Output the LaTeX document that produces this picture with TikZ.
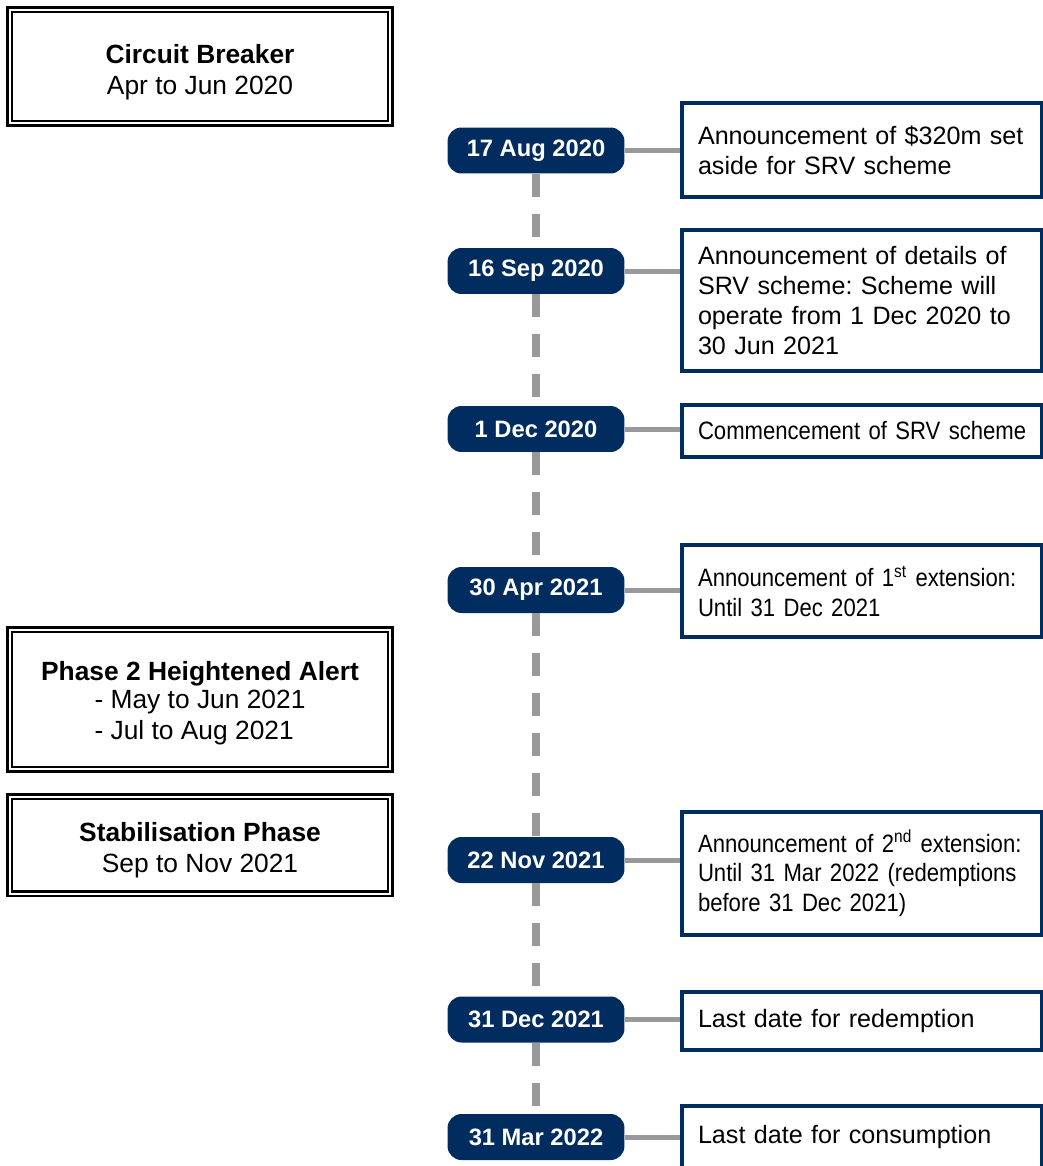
\documentclass[tikz,border=0pt]{standalone}
\usepackage{fontspec}
\setmainfont{Liberation Sans}
\newfontfamily\tightfont{Liberation Sans}[FakeStretch=0.88]
\usepackage{tikz}
\hyphenpenalty=10000
\frenchspacing

\definecolor{navy}{RGB}{0,44,95}
\definecolor{spinegray}{RGB}{153,153,153}

\tikzset{
  phase/.style={draw=black, line width=0.05cm, double, double distance=0.04cm,
    minimum width=7.62cm, align=center, inner sep=0pt,
    font=\fontsize{15}{17.5}\selectfont},
  pill/.style={fill=navy, rounded corners=0.28cm, minimum width=3.54cm,
    minimum height=0.92cm, inner sep=0pt, text=white,
    font=\fontsize{13.5}{16}\selectfont\bfseries},
  event/.style={draw=navy, line width=0.08cm, anchor=west, inner xsep=0.32cm,
    text width=6.56cm, align=left, font=\fontsize{14.3}{17}\selectfont},
  link/.style={draw=spinegray, line width=0.1cm},
  spine/.style={draw=spinegray, line width=0.16cm, dash pattern=on 0.46cm off 0.34cm},
}

\begin{document}
\begin{tikzpicture}[x=0.02cm, y=-0.02cm]
      \clip (0,0) rectangle (1043,1166);

      % Phases
      \node[phase, minimum height=2.28cm] (cb) at (200,66.5)
        {\rule{0pt}{17pt}\textbf{Circuit Breaker}\\Apr to Jun 2020};
      \node[phase, minimum height=2.8cm] (ph2) at (200,699.5)
        {\rule{0pt}{17pt}\textbf{Phase 2 Heightened Alert}\\
         \begin{tabular}{@{}l@{}}- May to Jun 2021\\- Jul to Aug 2021\end{tabular}};
      \node[phase, minimum height=1.94cm] (stab) at (200,845)
        {\rule{0pt}{17pt}\textbf{Stabilisation Phase}\\Sep to Nov 2021};

      % Dates
      \node[pill] (d1) at (536,150.5)  {17 Aug 2020};
      \node[pill] (d2) at (536,271)    {16 Sep 2020};
      \node[pill] (d3) at (536,429)    {1 Dec 2020};
      \node[pill] (d4) at (536,590)    {30 Apr 2021};
      \node[pill] (d5) at (536,860)    {22 Nov 2021};
      \node[pill] (d6) at (536,1019.5) {31 Dec 2021};
      \node[pill] (d7) at (536,1137)   {31 Mar 2022};

      % Events
      \node[event, minimum height=1.88cm] (e1) at (680,150)
        {Announcement of \$320m set\\aside for SRV scheme};
      \node[event, minimum height=2.82cm] (e2) at (680,300.5)
        {Announcement of details of\\SRV scheme: Scheme will\\operate from 1 Dec 2020 to\\30 Jun 2021};
      \node[event, minimum height=1.04cm] (e3) at (680,431)
        {\tightfont\mbox{Commencement of SRV scheme}};
      \node[event, minimum height=1.84cm] (e4) at (680,591)
        {\tightfont\mbox{Announcement of 1\textsuperscript{st} extension:}\\Until 31 Dec 2021};
      \node[event, minimum height=2.46cm] (e5) at (680,873.5)
        {\tightfont\mbox{Announcement of 2\textsuperscript{nd} extension:}\\\mbox{Until 31 Mar 2022 (redemptions}\\before 31 Dec 2021)};
      \node[event, minimum height=1.16cm] (e6) at (680,1021)
        {Last date for redemption};
      \node[event, minimum height=1.24cm] (e7) at (680,1137)
        {Last date for consumption};

      % Timeline
      \foreach \i/\j in {1/2,2/3,3/4,4/5,5/6,6/7}
        \draw[spine] (d\i.south) -- (d\j.north);
      \foreach \i in {1,...,7}
        \draw[link] (d\i.east) -- (d\i.east -| e\i.west);
    \end{tikzpicture}
\end{document}
